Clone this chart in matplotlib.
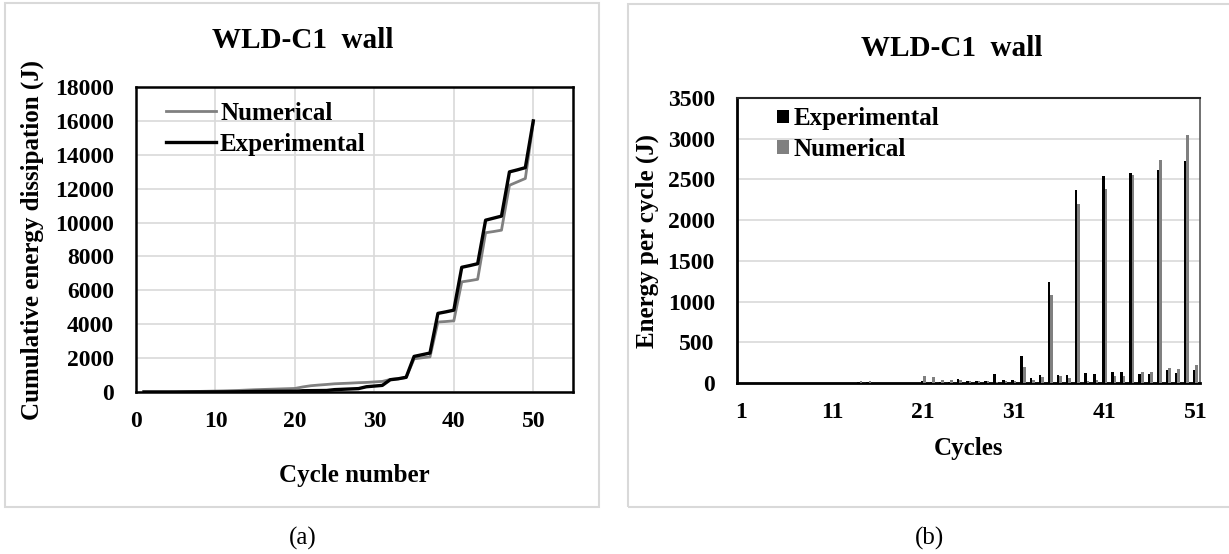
import numpy as np
import matplotlib
matplotlib.use("Agg")
import matplotlib.pyplot as plt
from matplotlib.patches import Rectangle

plt.rcParams['font.family'] = ['Liberation Serif', 'DejaVu Serif']

# ---- (a) cumulative energy dissipation ----
cycle_num = list(range(1, 51))
cum_experimental = [0, 0, 0, 0, 0, 2, 4, 5, 6, 8,
                    10, 12, 15, 25, 35, 38, 40, 42, 44, 46,
                    75, 80, 85, 90, 140, 160, 180, 200, 310, 350,
                    390, 725, 780, 870, 2100, 2200, 2300, 4640, 4730, 4830,
                    7360, 7460, 7570, 10140, 10260, 10380, 12990, 13110, 13240, 16000]
cum_numerical = [0, 0, 0, 0, 5, 15, 25, 35, 45, 55,
                 65, 80, 95, 115, 135, 150, 165, 180, 195, 210,
                 300, 370, 410, 445, 485, 505, 525, 550, 565, 595,
                 625, 740, 780, 850, 1960, 2020, 2070, 4130, 4160, 4200,
                 6500, 6570, 6650, 9400, 9470, 9550, 12200, 12400, 12600, 15900]

# ---- (b) energy dissipated per cycle ----
cycles = list(range(1, 52))
bar_experimental = [0, 0, 0, 0, 0, 0, 0, 0, 0, 0,
                    0, 0, 0, 10, 10, 2, 2, 2, 2, 2,
                    30, 10, 10, 10, 55, 20, 20, 20, 105, 40,
                    40, 330, 60, 95, 1235, 95, 95, 2365, 120, 115,
                    2540, 140, 130, 2585, 115, 110, 2620, 155, 125, 2725,
                    155]
bar_numerical = [0, 0, 0, 0, 3, 3, 3, 3, 3, 3,
                 3, 3, 3, 20, 20, 5, 5, 5, 5, 5,
                 90, 70, 40, 35, 40, 20, 20, 25, 15, 30,
                 30, 200, 40, 70, 1080, 80, 60, 2195, 30, 40,
                 2385, 90, 90, 2560, 130, 140, 2735, 185, 170, 3040,
                 220]

W, H = 1229, 554
fig = plt.figure(figsize=(W / 100, H / 100), dpi=100)
fig.patch.set_facecolor('white')


def fx(px):
    return px / W


def fy(py):
    return 1 - py / H


def add_axes_px(x0, y0, x1, y1):
    return fig.add_axes([fx(x0), fy(y1), fx(x1) - fx(x0), (y1 - y0) / H])


# panel frames
for (x0, y0, x1, y1) in [(5, 3, 599, 507), (628, 4, 1235, 507)]:
    fig.patches.append(Rectangle((fx(x0), fy(y1)), fx(x1) - fx(x0), (y1 - y0) / H,
                                 transform=fig.transFigure, fill=False,
                                 edgecolor='#d9d9d9', linewidth=1.5))

GRID = '#d9d9d9'
GREY = '#808080'
TICK_FS = 17
LABEL_FS = 18

# ---------- left chart ----------
ax1 = add_axes_px(136, 87, 573, 392)
ax1.plot(cycle_num, cum_numerical, color=GREY, lw=2.0, label='Numerical', zorder=3)
ax1.plot(cycle_num, cum_experimental, color='black', lw=2.4, label='Experimental', zorder=4)
ax1.set_xlim(0, 55)
ax1.set_ylim(0, 18000)
ax1.set_xticks(range(0, 51, 10))
ax1.set_yticks(range(0, 18001, 2000))
ax1.grid(True, color=GRID, lw=1.2, zorder=0)
ax1.set_axisbelow(True)
for s in ax1.spines.values():
    s.set_color('black')
    s.set_linewidth(1.8)
ax1.tick_params(length=0, labelsize=TICK_FS, pad=14)
ax1.tick_params(axis='y', pad=16)
for lab in ax1.get_xticklabels() + ax1.get_yticklabels():
    lab.set_fontweight('bold')
ax1.set_xlabel('Cycle number', fontsize=LABEL_FS, fontweight='bold', labelpad=23)
ax1.set_ylabel('Cumulative energy dissipation (J)', fontsize=LABEL_FS,
               fontweight='bold', labelpad=8)
ax1.legend(loc='upper left', bbox_to_anchor=(0.035, 1.0), frameon=False,
           prop={'size': LABEL_FS, 'weight': 'bold'}, handlelength=2.0,
           handletextpad=0.15, labelspacing=0.3, borderaxespad=0.2)
fig.text(fx(303), fy(40), 'WLD-C1  wall', ha='center', va='center',
         fontsize=21, fontweight='bold')
fig.text(fx(303), fy(538), '(a)', ha='center', va='center', fontsize=18)

# ---------- right chart ----------
ax2 = add_axes_px(737, 98, 1200, 383)
x = np.array(cycles)
bw = 0.28
ax2.bar(x - 0.14, bar_experimental, width=bw, color='black', label='Experimental', zorder=3)
ax2.bar(x + 0.14, bar_numerical, width=bw, color=GREY, label='Numerical', zorder=3)
ax2.set_xlim(0.5, 51.5)
ax2.set_ylim(0, 3500)
ax2.set_xticks(range(1, 52, 10))
ax2.set_yticks(range(0, 3501, 500))
ax2.yaxis.grid(True, color=GRID, lw=1.2, zorder=0)
ax2.set_axisbelow(True)
ax2.spines['left'].set_linewidth(2.0)
ax2.spines['bottom'].set_linewidth(2.0)
ax2.spines['top'].set_linewidth(1.5)
ax2.spines['top'].set_color('#262626')
ax2.spines['right'].set_linewidth(1.2)
ax2.spines['right'].set_color('#595959')
ax2.tick_params(length=0, labelsize=TICK_FS, pad=14)
ax2.tick_params(axis='y', pad=16)
for lab in ax2.get_xticklabels() + ax2.get_yticklabels():
    lab.set_fontweight('bold')
ax2.set_xlabel('Cycles', fontsize=LABEL_FS, fontweight='bold', labelpad=10)
ax2.set_ylabel('Energy per cycle (J)', fontsize=LABEL_FS, fontweight='bold', labelpad=6)
ax2.legend(loc='upper left', bbox_to_anchor=(0.055, 1.02), frameon=False,
           prop={'size': LABEL_FS, 'weight': 'bold'}, handlelength=0.45,
           handleheight=0.45, handletextpad=0.2, labelspacing=0.3, borderaxespad=0.2)
fig.text(fx(952), fy(49), 'WLD-C1  wall', ha='center', va='center',
         fontsize=21, fontweight='bold')
fig.text(fx(929), fy(538), '(b)', ha='center', va='center', fontsize=18)

fig.savefig('out.png', dpi=100, facecolor='white')
